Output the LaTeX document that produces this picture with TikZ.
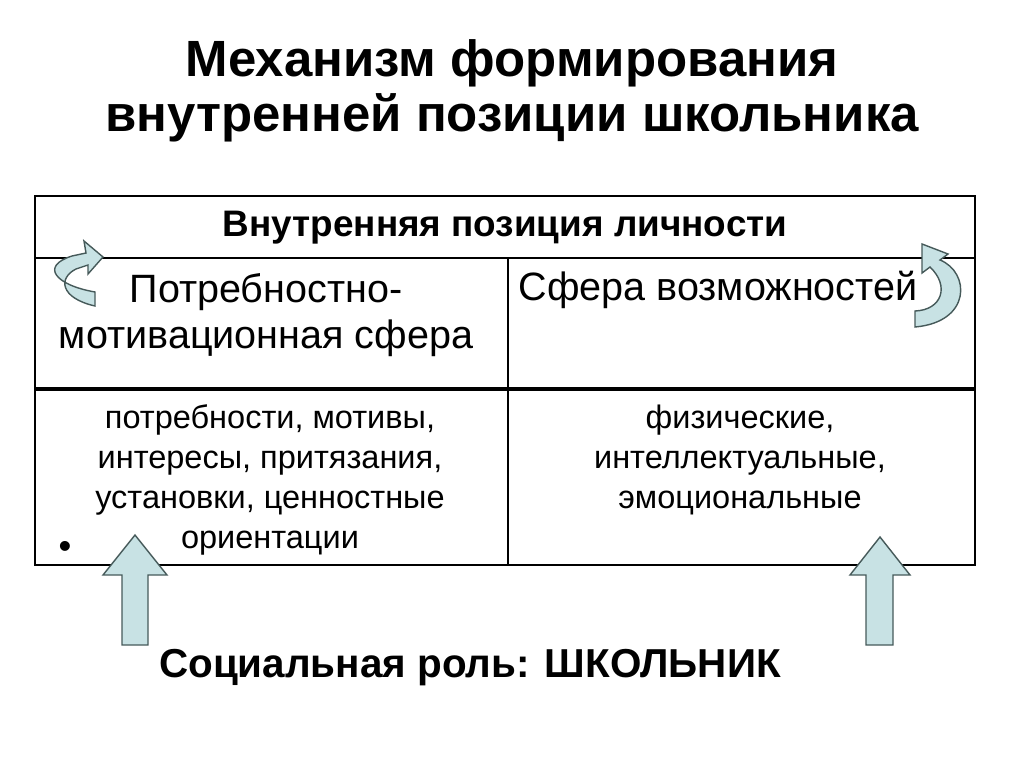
\documentclass[tikz,border=0pt]{standalone}
\usepackage{fontspec}
\setmainfont{Liberation Sans}
\usetikzlibrary{positioning}
\definecolor{arrowfill}{RGB}{200,226,228}
\definecolor{arrowline}{RGB}{70,90,90}
\begin{document}
\begin{tikzpicture}[
    x=0.02cm, y=-0.02cm,
    title/.style={%
      font=\bfseries\fontsize{29}{31}\selectfont,
      align=center,
    },
    head/.style={%
      font=\fontsize{22.5}{26}\selectfont,
      align=center,
    },
    body/.style={%
      font=\fontsize{18.5}{22.7}\selectfont,
      align=center,
    },
    blockarrow/.style={%
      fill=arrowfill,
      draw=arrowline,
      line width=0.8pt,
    },
  ]
    \useasboundingbox (0,0) rectangle (1024,767);
    \node [title] (T) at (512,91) {Механизм формирования\\внутренней позиции школьника};

    \draw [line width=1.6pt] (35,196) rectangle (975,565);
    \draw [line width=1pt] (35,258) -- (975,258);
    \draw [line width=2pt] (35,389) -- (975,389);
    \draw [line width=1pt] (508,258) -- (508,565);

    \node [font=\bfseries\fontsize{21}{26}\selectfont] (H) at (505,228) {Внутренняя позиция личности};
    \node [head] (L) at (266,315) {Потребностно-\\мотивационная сфера};
    \node [head] (R) at (718,290) {Сфера возможностей};
    \node [body] (LB) at (270,480) {потребности, мотивы,\\интересы, притязания,\\установки, ценностные\\ориентации};
    \node [body] (RB) at (740,460) {физические,\\интеллектуальные,\\эмоциональные};
    \node [font=\huge] (dot) at (65,550) {•};

    \node [font=\bfseries\fontsize{23}{26}\selectfont] (S) at (470,668) {Социальная роль: ШКОЛЬНИК};

    % up arrows
    \draw [blockarrow] (122,645) -- (122,575) -- (103,575) -- (135,535) -- (167,575) -- (148,575) -- (148,645) -- cycle;
    \draw [blockarrow] (866,645) -- (866,575) -- (850,575) -- (880,537) -- (910,575) -- (893,575) -- (893,645) -- cycle;

    % curved arrows
    \draw [blockarrow] (95,292) .. controls (55,285) and (40,266) .. (72,256) -- (86,253) -- (84,241) -- (103,257) -- (88,274) -- (88,265) -- (76,269)
      .. controls (58,278) and (60,298) .. (95,306) -- cycle;
    \draw [blockarrow] (915,327) .. controls (972,322) and (970,272) .. (940,260) -- (948,254) -- (922,244) -- (922,273) -- (930,267)
      .. controls (950,286) and (942,310) .. (915,311) -- cycle;
\end{tikzpicture}
\end{document}
